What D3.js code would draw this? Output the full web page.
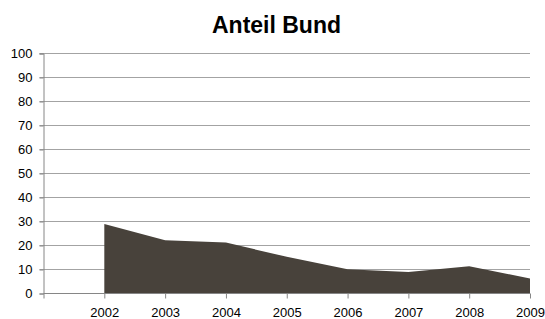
<!DOCTYPE html>
<html>
<head>
<meta charset="utf-8">
<script src="https://cdn.jsdelivr.net/npm/d3@7"></script>
<style>
  body { margin: 0; background: #fff; }
  text { font-family: "Liberation Sans", Arial, sans-serif; }
</style>
</head>
<body>
<svg width="545" height="319"></svg>
<script>
// data
var categories = ["", "2002", "2003", "2004", "2005", "2006", "2007", "2008", "2009"];
var years = ["2002", "2003", "2004", "2005", "2006", "2007", "2008", "2009"];
var anteil = [29, 22.2, 21.2, 15.3, 10.1, 9, 11.4, 6.2];
var yTicks = [0, 10, 20, 30, 40, 50, 60, 70, 80, 90, 100];

var svg = d3.select("svg");
// note: "top" is taken by window.top, so use other names
var plotLeft = 43.5, plotRight = 530, plotTop = 53.5, plotBottom = 293.5;

var x = d3.scalePoint().domain(categories).range([plotLeft, plotRight]);
var y = d3.scaleLinear().domain([0, 100]).range([plotBottom, plotTop]);

// title
svg.append("text")
  .attr("x", 276.5).attr("y", 33)
  .attr("text-anchor", "middle")
  .attr("font-size", "23px")
  .attr("font-weight", "bold")
  .text("Anteil Bund");

// gridlines
svg.append("g").selectAll("line")
  .data(yTicks.filter(function (d) { return d > 0; }))
  .enter().append("line")
  .attr("x1", plotLeft - 4).attr("x2", plotRight)
  .attr("y1", function (d) { return y(d); })
  .attr("y2", function (d) { return y(d); })
  .style("stroke", "#a3a3a3")
  .style("stroke-width", 1);

// area
var pts = years.map(function (c, i) { return { c: c, v: anteil[i] }; });
var area = d3.area()
  .x(function (d) { return x(d.c); })
  .y0(y(0))
  .y1(function (d) { return y(d.v); });
svg.append("path")
  .datum(pts)
  .attr("d", area)
  .style("fill", "#48423b");

// y axis
var yAxis = d3.axisLeft(y).tickValues(yTicks).tickSize(4).tickPadding(7);
var gy = svg.append("g").attr("transform", "translate(" + plotLeft + ",0)").call(yAxis);
gy.selectAll("text").attr("font-size", "13px").attr("fill", "#000").attr("font-family", "Liberation Sans, Arial, sans-serif");
gy.selectAll("line, path").style("stroke", "#868686");

// x axis
var xAxis = d3.axisBottom(x).tickSize(5).tickPadding(9);
var gx = svg.append("g").attr("transform", "translate(0," + plotBottom + ")").call(xAxis);
gx.selectAll("text").attr("font-size", "13px").attr("fill", "#000").attr("font-family", "Liberation Sans, Arial, sans-serif");
gx.selectAll("line, path").style("stroke", "#868686");
gx.select(".domain").attr("d", "M" + plotLeft + ",0H" + plotRight);
</script>
</body>
</html>
